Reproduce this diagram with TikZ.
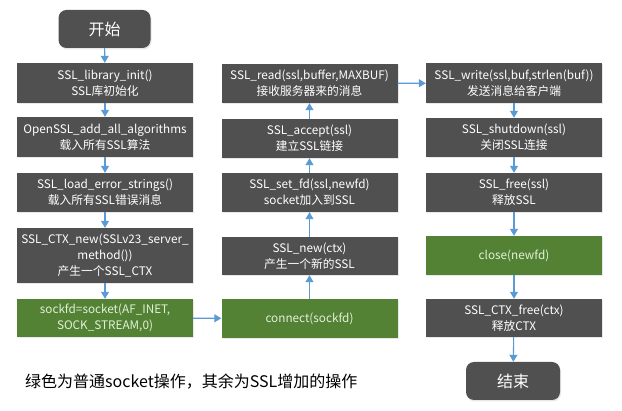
\documentclass[tikz,border=0pt]{standalone}
\usepackage{fontspec}
\setmainfont{Noto Sans CJK SC}
\usetikzlibrary{arrows.meta,shadows}
\definecolor{boxgray}{HTML}{505050}
\definecolor{boxgreen}{HTML}{548235}
\definecolor{greentext}{HTML}{E2F0D9}
\definecolor{arrowblue}{HTML}{5B9BD5}
\begin{document}
\begin{tikzpicture}[x=1pt,y=-1pt,
  base/.style={draw=none, align=center, inner sep=1pt,
    drop shadow={opacity=0.18, shadow xshift=1pt, shadow yshift=-1.5pt},
    font=\fontsize{11.75}{16}\selectfont},
  graybox/.style={base, fill=boxgray, text=white, minimum width=176pt, minimum height=40pt},
  greenbox/.style={base, fill=boxgreen, text=greentext, minimum width=176pt, minimum height=39pt},
  term/.style={base, fill=boxgray, text=white, rounded corners=8pt, minimum width=92pt, minimum height=38pt, font=\fontsize{16}{18}\selectfont},
  flow/.style={draw=arrowblue, line width=1.1pt, -{Triangle[length=7pt,width=8pt]}}
]
\useasboundingbox (0,0) rectangle (622,411);
\fill[white] (0,0) rectangle (622,411);
% column 1
\node[term] (start) at (104.5,29) {开始};
\node[graybox] (init) at (105,83) {SSL\_library\_init()\\SSL库初始化};
\node[graybox] (algo) at (105,137) {OpenSSL\_add\_all\_algorithms\\载入所有SSL算法};
\node[graybox, minimum height=39pt] (err) at (105,192.5) {SSL\_load\_error\_strings()\\载入所有SSL错误消息};
\node[graybox, minimum height=55pt] (ctx) at (105,255.5) {SSL\_CTX\_new(SSLv23\_server\_\\method())\\产生一个SSL\_CTX};
\node[greenbox, minimum height=38pt] (sock) at (105,318) {sockfd=socket(AF\_INET,\\SOCK\_STREAM,0)};
% column 2
\node[greenbox] (conn) at (309.5,318.5) {connect(sockfd)};
\node[graybox, minimum height=38pt] (new) at (309.5,256) {SSL\_new(ctx)\\产生一个新的SSL};
\node[graybox, minimum height=39pt] (setfd) at (309.5,192.5) {SSL\_set\_fd(ssl,newfd)\\socket加入到SSL};
\node[graybox, minimum height=39pt] (acc) at (309.5,138.5) {SSL\_accept(ssl)\\建立SSL链接};
\node[graybox, minimum height=39pt] (read) at (309.5,83.5) {SSL\_read(ssl,buffer,MAXBUF)\\接收服务器来的消息};
% column 3
\node[graybox] (write) at (514,83) {SSL\_write(ssl,buf,strlen(buf))\\发送消息给客户端};
\node[graybox, minimum height=39pt] (shut) at (514,137.5) {SSL\_shutdown(ssl)\\关闭SSL连接};
\node[graybox, minimum height=39pt] (free) at (514,192.5) {SSL\_free(ssl)\\释放SSL};
\node[greenbox] (close) at (514,255.5) {close(newfd)};
\node[graybox, minimum height=38pt] (ctxfree) at (514,318) {SSL\_CTX\_free(ctx)\\释放CTX};
\node[term, minimum width=94pt] (end) at (513,381) {结束};
% legend
\node[anchor=west, inner sep=0pt, font=\fontsize{16}{18}\selectfont] (legend) at (25,382) {绿色为普通socket操作，其余为SSL增加的操作};
% connectors
\draw[flow] (start) -- (init);
\draw[flow] (init) -- (algo);
\draw[flow] (algo) -- (err);
\draw[flow] (err) -- (ctx);
\draw[flow] (ctx) -- (sock);
\draw[flow] (sock) -- (conn);
\draw[flow] (conn) -- (new);
\draw[flow] (new) -- (setfd);
\draw[flow] (setfd) -- (acc);
\draw[flow] (acc) -- (read);
\draw[flow] (read) -- (write);
\draw[flow] (write) -- (shut);
\draw[flow] (shut) -- (free);
\draw[flow] (free) -- (close);
\draw[flow] (close) -- (ctxfree);
\draw[flow] (ctxfree) -- (end);
\end{tikzpicture}
\end{document}
